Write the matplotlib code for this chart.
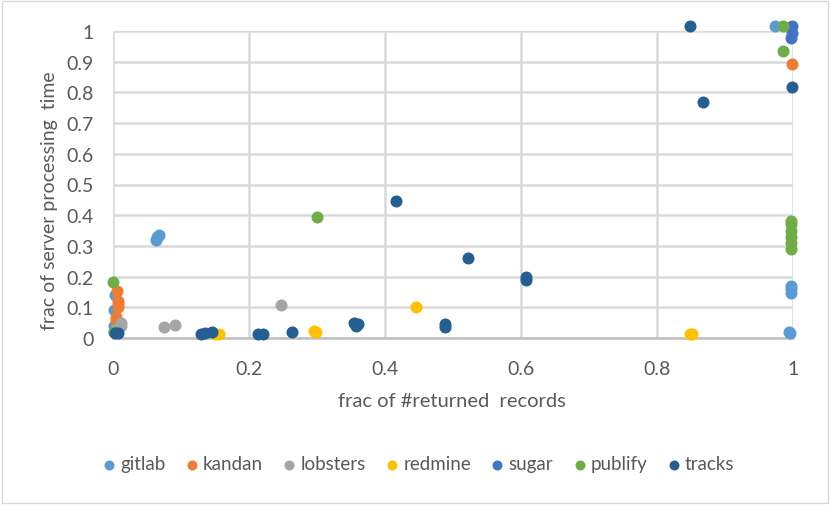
import matplotlib
matplotlib.use("Agg")
import matplotlib.pyplot as plt
from matplotlib.patches import Rectangle

plt.rcParams['font.family'] = ['Lato', 'DejaVu Sans']

# data (x = frac of returned records, y = frac of server time)
gitlab_x = [0.065, 0.063, 0.067, 0.003, 0.002, 0.001, 0.002, 0.974, 0.997, 0.997, 0.997, 0.994, 0.996]
gitlab_y = [0.33, 0.32, 0.335, 0.14, 0.09, 0.04, 0.02, 1.016, 0.17, 0.16, 0.145, 0.02, 0.015]

kandan_x = [0.006, 0.008, 0.008, 0.007, 0.005, 0.004, 0.998]
kandan_y = [0.153, 0.12, 0.11, 0.10, 0.07, 0.06, 0.892]

lobsters_x = [0.012, 0.012, 0.075, 0.091, 0.247, 0.004]
lobsters_y = [0.05, 0.04, 0.036, 0.043, 0.107, 0.03]

redmine_x = [0.150, 0.156, 0.298, 0.295, 0.446, 0.848, 0.852]
redmine_y = [0.013, 0.013, 0.02, 0.022, 0.10, 0.013, 0.013]

sugar_x = [0.998, 0.998, 0.997]
sugar_y = [1.016, 0.995, 0.978]

publify_x = [0.0, 0.300, 0.985, 0.985, 0.997, 0.997, 0.997, 0.997, 0.997, 0.997, 0.002]
publify_y = [0.183, 0.394, 1.016, 0.935, 0.38, 0.37, 0.35, 0.33, 0.31, 0.29, 0.02]

tracks_x = [0.003, 0.008, 0.130, 0.135, 0.146, 0.213, 0.220, 0.263, 0.355, 0.357, 0.360,
            0.416, 0.488, 0.488, 0.522, 0.607, 0.607, 0.849, 0.868, 0.998]
tracks_y = [0.015, 0.015, 0.013, 0.015, 0.02, 0.013, 0.013, 0.02, 0.05, 0.04, 0.045,
            0.446, 0.045, 0.035, 0.262, 0.19, 0.20, 1.016, 0.769, 0.818]

series = [
    ('gitlab', gitlab_x, gitlab_y, '#5B9BD5'),
    ('kandan', kandan_x, kandan_y, '#ED7D31'),
    ('lobsters', lobsters_x, lobsters_y, '#A5A5A5'),
    ('redmine', redmine_x, redmine_y, '#FFC000'),
    ('sugar', sugar_x, sugar_y, '#4472C4'),
    ('publify', publify_x, publify_y, '#70AD47'),
    ('tracks', tracks_x, tracks_y, '#255E91'),
]

text_col = '#595959'
grid_col = '#D9D9D9'
W, H = 830, 506

fig = plt.figure(figsize=(8.3, 5.06), dpi=100)
ax = fig.add_axes([113 / W, 1 - 339 / H, 680 / W, 307 / H])

for i, (name, xs, ys, c) in enumerate(series):
    ax.scatter(xs, ys, s=75, color=c, label=name, clip_on=False, zorder=3 + i, linewidths=0)

ax.set_xlim(0, 1)
ax.set_ylim(0, 1)
ax.set_xticks([0, 0.2, 0.4, 0.6, 0.8, 1])
ax.set_xticklabels(['0', '0.2', '0.4', '0.6', '0.8', '1'])
ax.set_yticks([i / 10 for i in range(11)])
ax.set_yticklabels(['0'] + ['0.%d' % i for i in range(1, 10)] + ['1'])
ax.grid(True, color=grid_col, linewidth=1.8)
ax.set_axisbelow(True)
for sp in ['top', 'right', 'left']:
    ax.spines[sp].set_visible(False)
ax.spines['bottom'].set_color('#BFBFBF')
ax.spines['bottom'].set_linewidth(1.8)
ax.tick_params(length=0, labelsize=14, colors=text_col)
ax.tick_params(axis='x', pad=16)
ax.tick_params(axis='y', pad=14)

# axis titles placed like the Excel ones
fig.text(452 / W, 1 - 407 / H, 'frac of #returned  records', fontsize=14.5, color=text_col,
         ha='center', va='baseline')
fig.text(55 / W, 1 - 201 / H, 'frac of server processing  time', fontsize=14, color=text_col,
         ha='center', va='baseline', rotation=90, rotation_mode='anchor')

leg = fig.legend(loc='center', bbox_to_anchor=(419 / W, 1 - 465 / H), ncol=7, frameon=False,
                 fontsize=13.5, handletextpad=0.3, columnspacing=1.1, markerscale=0.83,
                 handlelength=0.6)
for t in leg.get_texts():
    t.set_color(text_col)

fig.patches.append(Rectangle((0.002, 0.003), 0.996, 0.994, transform=fig.transFigure,
                             fill=False, edgecolor=grid_col, linewidth=1))

fig.savefig('out.png', dpi=100)
